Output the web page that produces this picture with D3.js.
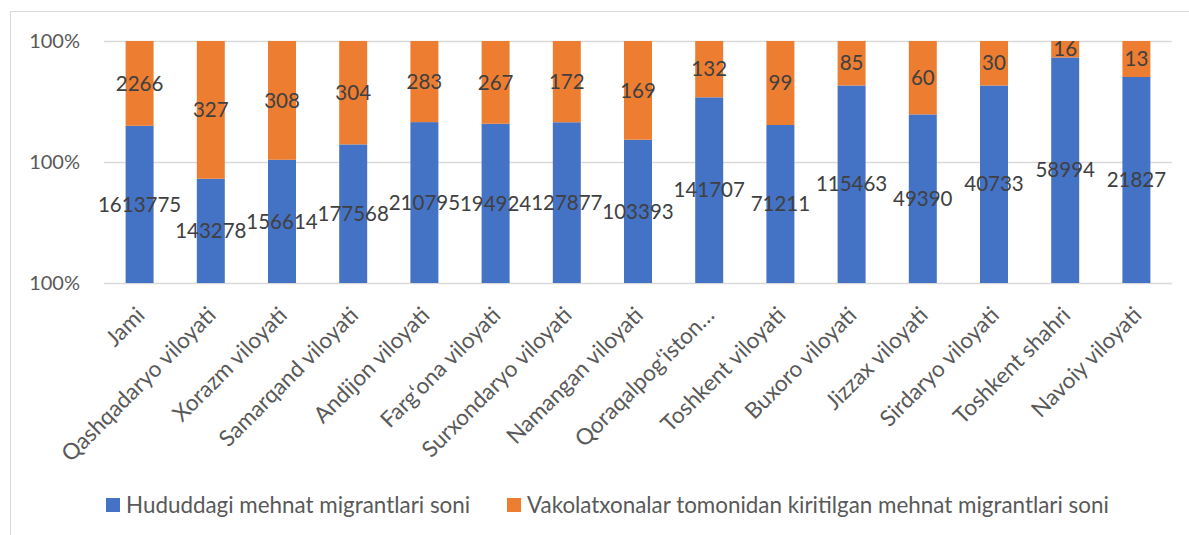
<!DOCTYPE html>
<html>
<head>
<meta charset="utf-8">
<script src="https://cdn.jsdelivr.net/npm/d3@7"></script>
<style>
  body { margin: 0; background: #fff; }
  text { font-family: Lato, "Open Sans", sans-serif; }
</style>
</head>
<body>
<script>
// categories and the two stacked series
const categories = ["Jami", "Qashqadaryo viloyati", "Xorazm viloyati", "Samarqand viloyati",
  "Andijon viloyati", "Farg\u2018ona viloyati", "Surxondaryo viloyati", "Namangan viloyati",
  "Qoraqalpog\u2018iston\u2026", "Toshkent viloyati", "Buxoro viloyati", "Jizzax viloyati",
  "Sirdaryo viloyati", "Toshkent shahri", "Navoiy viloyati"];
const migrants = [1613775, 143278, 156614, 177568, 210795, 194924, 127877, 103393,
  141707, 71211, 115463, 49390, 40733, 58994, 21827];
const representations = [2266, 327, 308, 304, 283, 267, 172, 169, 132, 99, 85, 60, 30, 16, 13];
const seriesNames = ["Hududdagi mehnat migrantlari soni",
  "Vakolatxonalar tomonidan kiritilgan mehnat migrantlari soni"];
const yTicks = [0.996, 0.998, 1.0];

// set dimensions
const WIDTH = 1189;
const HEIGHT = 535;
const PLOT = {left: 104, right: 1172, top: 41, bottom: 283};
const colors = ["#4472C4", "#ED7D31"];

const svg = d3.select("body")
              .append("svg")
              .attr("width", WIDTH)
              .attr("height", HEIGHT);

// chart border
svg.append("rect")
   .attr("x", 10.5).attr("y", 11.5)
   .attr("width", WIDTH).attr("height", HEIGHT)
   .attr("fill", "none")
   .attr("stroke", "#D9D9D9");

const xScale = d3.scaleBand()
                 .domain(categories)
                 .range([PLOT.left, PLOT.right])
                 .paddingInner(0.607)
                 .paddingOuter(0.3035);

// 100% stacked, axis starts at 99.6%
const yScale = d3.scaleLinear()
                 .domain([0.996, 1])
                 .range([PLOT.bottom, PLOT.top])
                 .clamp(true);

// gridlines
svg.selectAll(".grid")
   .data(yTicks)
   .enter()
   .append("line")
   .attr("x1", PLOT.left).attr("x2", PLOT.right)
   .attr("y1", d => Math.round(yScale(d)) + 0.5)
   .attr("y2", d => Math.round(yScale(d)) + 0.5)
   .attr("stroke", "#D9D9D9")
   .attr("stroke-width", 1.5);

// y axis labels
svg.selectAll(".ylab")
   .data(yTicks)
   .enter()
   .append("text")
   .attr("x", 80)
   .attr("y", d => yScale(d))
   .attr("dy", "0.35em")
   .attr("text-anchor", "end")
   .attr("fill", "#595959")
   .style("font-size", "20px")
   .text(d3.format(".0%"));

const rows = categories.map((c, i) => {
  const total = migrants[i] + representations[i];
  return {cat: c, blue: migrants[i], orange: representations[i], split: migrants[i] / total};
});

// blue part
svg.selectAll(".blue")
   .data(rows)
   .enter()
   .append("rect")
   .attr("x", d => xScale(d.cat))
   .attr("width", xScale.bandwidth())
   .attr("y", d => yScale(d.split))
   .attr("height", d => yScale(0) - yScale(d.split))
   .attr("fill", colors[0]);

// orange part
svg.selectAll(".orange")
   .data(rows)
   .enter()
   .append("rect")
   .attr("x", d => xScale(d.cat))
   .attr("width", xScale.bandwidth())
   .attr("y", yScale(1))
   .attr("height", d => yScale(d.split) - yScale(1))
   .attr("fill", colors[1]);

// value labels
svg.selectAll(".blab")
   .data(rows)
   .enter()
   .append("text")
   .attr("x", d => xScale(d.cat) + xScale.bandwidth() / 2)
   .attr("y", d => (yScale(d.split) + yScale(0)) / 2)
   .attr("dy", "0.35em")
   .attr("text-anchor", "middle")
   .attr("fill", "#404040")
   .style("font-size", "20.5px")
   .text(d => d.blue);

svg.selectAll(".olab")
   .data(rows)
   .enter()
   .append("text")
   .attr("x", d => xScale(d.cat) + xScale.bandwidth() / 2)
   .attr("y", d => (yScale(d.split) + yScale(1)) / 2)
   .attr("dy", "0.35em")
   .attr("text-anchor", "middle")
   .attr("fill", "#404040")
   .style("font-size", "20.5px")
   .text(d => d.orange);

// category labels, rotated
svg.selectAll(".xlab")
   .data(categories)
   .enter()
   .append("text")
   .attr("transform", d => "translate(" + (xScale(d) + xScale.bandwidth() / 2 + 1) + "," + 311 + ") rotate(-45)")
   .attr("dy", "0.35em")
   .attr("text-anchor", "end")
   .attr("fill", "#595959")
   .style("font-size", "22.5px")
   .text(d => d);

// legend
const legendX = [106, 507];
const legend = svg.selectAll(".legend")
   .data(seriesNames)
   .enter()
   .append("g")
   .attr("transform", (d, i) => "translate(" + legendX[i] + ",498)");

legend.append("rect")
      .attr("width", 14).attr("height", 14)
      .attr("fill", (d, i) => colors[i]);

legend.append("text")
      .attr("x", 20)
      .attr("y", 7)
      .attr("dy", "0.35em")
      .attr("fill", "#595959")
      .style("font-size", "22.4px")
      .text(d => d);
</script>
</body>
</html>
